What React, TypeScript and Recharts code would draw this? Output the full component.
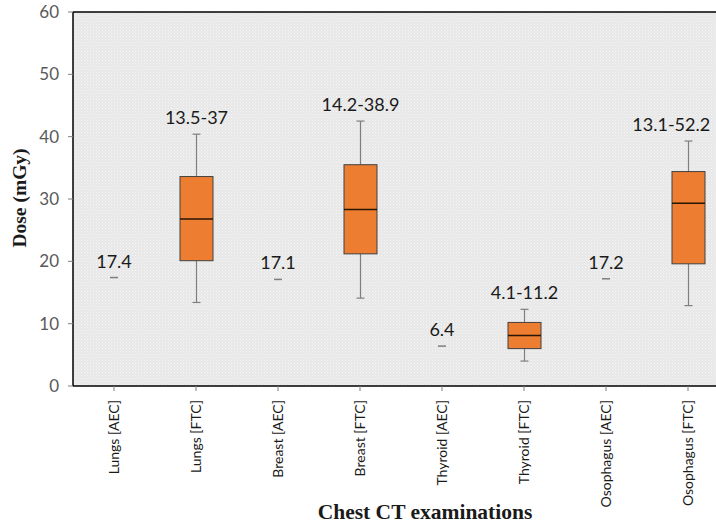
import React from "react";
import {
  ComposedChart,
  Bar,
  Scatter,
  XAxis,
  YAxis,
  CartesianGrid,
  ReferenceLine,
} from "recharts";

const categories = [
  "Lungs [AEC]",
  "Lungs [FTC]",
  "Breast [AEC]",
  "Breast [FTC]",
  "Thyroid [AEC]",
  "Thyroid [FTC]",
  "Osophagus [AEC]",
  "Osophagus [FTC]",
];
const aecValues: (number | null)[] = [17.4, null, 17.1, null, 6.4, null, 17.2, null];
const aecLabels: (string | null)[] = ["17.4", null, "17.1", null, "6.4", null, "17.2", null];
const whiskerLow: (number | null)[] = [null, 13.4, null, 14.1, null, 4.0, null, 12.9];
const quartile1: (number | null)[] = [null, 20.1, null, 21.2, null, 6.0, null, 19.6];
const medians: (number | null)[] = [null, 26.8, null, 28.3, null, 8.1, null, 29.3];
const quartile3: (number | null)[] = [null, 33.6, null, 35.5, null, 10.2, null, 34.4];
const whiskerHigh: (number | null)[] = [null, 40.4, null, 42.5, null, 12.3, null, 39.3];
const rangeLabels: (string | null)[] = [null, "13.5-37", null, "14.2-38.9", null, "4.1-11.2", null, "13.1-52.2"];
const yTicks = [0, 10, 20, 30, 40, 50, 60];

const data = categories.map((name, i) => ({
  name,
  aec: aecValues[i],
  aecLabel: aecLabels[i],
  range: whiskerLow[i] != null ? [whiskerLow[i], whiskerHigh[i]] : null,
  min: whiskerLow[i],
  q1: quartile1[i],
  median: medians[i],
  q3: quartile3[i],
  max: whiskerHigh[i],
  label: rangeLabels[i],
}));

const LABEL_FONT = "Lato, 'Noto Sans', sans-serif";
const DATA_FONT_SIZE = 18;

const BoxShape = (props: any) => {
  const { x, y, width, height, payload } = props;
  if (!payload || payload.min == null) return null;
  const top = Math.min(y, y + height);
  const h = Math.abs(height);
  const ppu = h / (payload.max - payload.min);
  const yOf = (v: number) => top + (payload.max - v) * ppu;
  const cx = x + width / 2;
  const bw = 33;
  const cap = 8;
  const halfLabel = (String(payload.label).length * DATA_FONT_SIZE * 0.54) / 2;
  const labelX = Math.min(cx, 716 - halfLabel - 1);
  return (
    <g>
      <line x1={cx} x2={cx} y1={yOf(payload.max)} y2={yOf(payload.q3)} stroke="#7f7f7f" strokeWidth={1.2} />
      <line x1={cx} x2={cx} y1={yOf(payload.q1)} y2={yOf(payload.min)} stroke="#7f7f7f" strokeWidth={1.2} />
      <line x1={cx - cap / 2} x2={cx + cap / 2} y1={yOf(payload.max)} y2={yOf(payload.max)} stroke="#7f7f7f" strokeWidth={1.2} />
      <line x1={cx - cap / 2} x2={cx + cap / 2} y1={yOf(payload.min)} y2={yOf(payload.min)} stroke="#7f7f7f" strokeWidth={1.2} />
      <rect
        x={cx - bw / 2}
        y={yOf(payload.q3)}
        width={bw}
        height={yOf(payload.q1) - yOf(payload.q3)}
        fill="#ED7D31"
        stroke="#404040"
        strokeWidth={1}
      />
      <line x1={cx - bw / 2} x2={cx + bw / 2} y1={yOf(payload.median)} y2={yOf(payload.median)} stroke="#2a1404" strokeWidth={1.5} />
      <text
        x={labelX}
        y={yOf(payload.max) - 10}
        textAnchor="middle"
        fontFamily={LABEL_FONT}
        fontSize={DATA_FONT_SIZE}
        fill="#1a1a1a"
      >
        {payload.label}
      </text>
    </g>
  );
};

const AecShape = (props: any) => {
  const { cx, cy, payload } = props;
  if (!payload || payload.aec == null || cy == null || isNaN(cy)) return null;
  return (
    <g>
      <line x1={cx - 4} x2={cx + 4} y1={cy} y2={cy} stroke="#7f7f7f" strokeWidth={1.5} />
      <text
        x={cx}
        y={cy - 10}
        textAnchor="middle"
        fontFamily={LABEL_FONT}
        fontSize={DATA_FONT_SIZE}
        fill="#1a1a1a"
      >
        {payload.aecLabel}
      </text>
    </g>
  );
};

const XTick = (props: any) => {
  const { x, y, payload } = props;
  return (
    <g transform={`translate(${x},${y + 7}) rotate(-90)`}>
      <text
        x={0}
        y={0}
        dy="0.35em"
        textAnchor="end"
        fontFamily={LABEL_FONT}
        fontSize={14}
        fill="#1a1a1a"
      >
        {payload.value}
      </text>
    </g>
  );
};

export default function App() {
  return (
    <div
      style={{
        position: "fixed",
        left: 0,
        top: 0,
        width: 716,
        height: 528,
        overflow: "hidden",
        background: "#fff",
      }}
    >
      <ComposedChart
        width={740}
        height={528}
        data={data}
        margin={{ top: 12, right: 11, left: 0, bottom: 42 }}
      >
        <defs>
          <pattern id="dots" width="3" height="3" patternUnits="userSpaceOnUse">
            <rect width="3" height="3" fill="#e7e7e7" />
            <rect x="0" y="0" width="1" height="1" fill="#f7f7f7" />
            <rect x="1.5" y="1.5" width="1" height="1" fill="#f4f4f4" />
          </pattern>
        </defs>
        <CartesianGrid horizontal={false} vertical={false} fill="url(#dots)" fillOpacity={1} />
        <XAxis
          dataKey="name"
          type="category"
          interval={0}
          height={100}
          tickSize={5}
          tickLine={{ stroke: "#7f7f7f" }}
          axisLine={{ stroke: "#000", strokeWidth: 1.5 }}
          tick={<XTick />}
          label={{
            content: () => (
              <text
                x={425}
                y={519}
                textAnchor="middle"
                fontFamily="'Liberation Serif', serif"
                fontWeight="bold"
                fontSize={21.5}
                fill="#1a1a1a"
              >
                Chest CT examinations
              </text>
            ),
          }}
        />
        <YAxis
          type="number"
          domain={[0, 60]}
          ticks={yTicks}
          width={73}
          tickSize={5}
          tickMargin={9}
          tickLine={{ stroke: "#7f7f7f" }}
          axisLine={{ stroke: "#000", strokeWidth: 1.5 }}
          tick={{ fill: "#595959", fontSize: 17, fontFamily: LABEL_FONT }}
          label={{
            content: () => (
              <text
                x={26}
                y={198}
                transform="rotate(-90 26 198)"
                textAnchor="middle"
                fontFamily="'Liberation Serif', serif"
                fontWeight="bold"
                fontSize={19.5}
                fill="#1a1a1a"
              >
                Dose (mGy)
              </text>
            ),
          }}
        />
        <ReferenceLine y={60} stroke="#000" strokeWidth={1.5} />
        <Bar dataKey="range" barSize={33} shape={<BoxShape />} isAnimationActive={false} />
        <Scatter dataKey="aec" shape={<AecShape />} isAnimationActive={false} />
      </ComposedChart>
    </div>
  );
}
